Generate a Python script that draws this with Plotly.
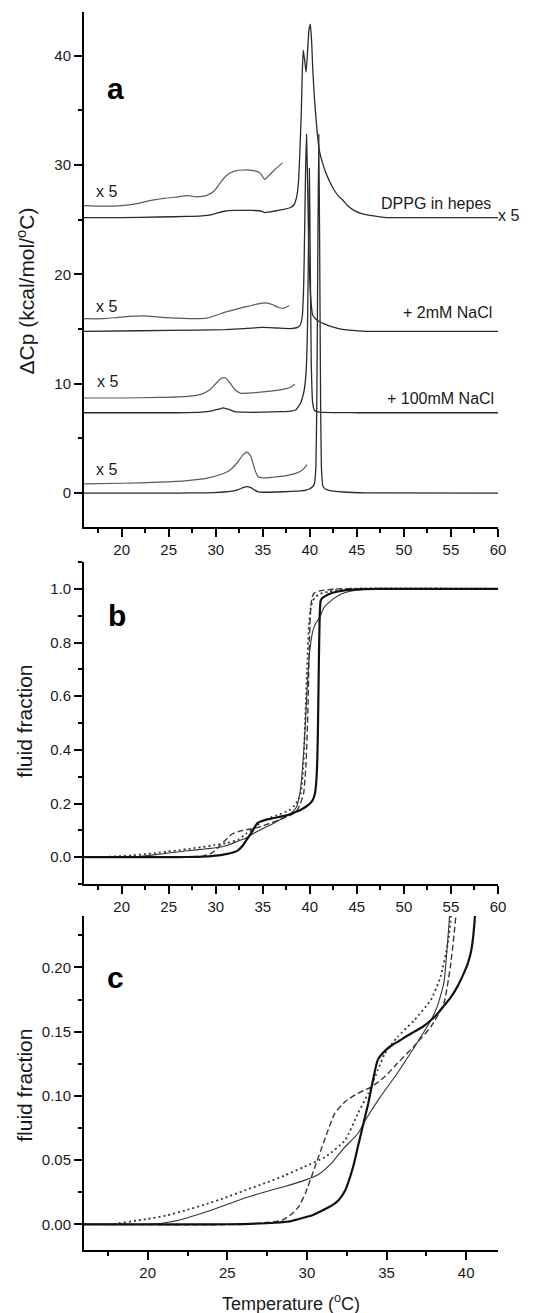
import plotly.graph_objects as go

# ---------------- Panel a : DSC thermograms (offset curves) ----------------
dppg_T = [16, 20, 24, 27, 28.5, 29.5, 30.3, 31, 32, 33, 34, 34.8, 35.2, 35.6, 36.3, 37.2, 37.9, 38.3,
          38.6, 38.8, 38.95, 39.1, 39.2, 39.3, 39.45, 39.6, 39.75, 39.9, 40.05, 40.2, 40.3, 40.5, 40.75,
          41.0, 41.35, 41.7, 42.4, 43.0, 43.5, 44.0, 44.6, 45.5, 46.4, 48.2, 52, 60]
dppg_cp = [25.2, 25.2, 25.25, 25.3, 25.35, 25.45, 25.65, 25.8, 25.85, 25.85, 25.85, 25.8, 25.65, 25.7,
           25.8, 25.95, 26.1, 26.35, 27.1, 28.5, 31.4, 35, 38.5, 40.5, 39.6, 38.5, 40.2, 42.3, 42.9, 41.2,
           39.0, 36.0, 33.3, 31.4, 30.2, 29.3, 28.0, 27.2, 26.8, 26.3, 25.9, 25.55, 25.4, 25.2, 25.2, 25.2]

dppg5_T = [16, 18, 20, 21.5, 23, 24.5, 26, 27, 28, 29, 29.8, 30.5, 31.2, 32, 33, 34, 34.7, 35.2, 35.6,
           36.3, 37.1]
dppg5_cp = [26.3, 26.25, 26.3, 26.45, 26.75, 26.95, 27.1, 27.2, 27.1, 27.2, 27.6, 28.4, 29.1, 29.45, 29.55,
            29.5, 29.3, 28.7, 29.0, 29.6, 30.2]

nacl2_T = [16, 22, 28, 31, 33, 35, 36.5, 38, 38.7, 39.0, 39.2, 39.35, 39.45, 39.55, 39.65, 39.75, 39.85,
           39.95, 40.1, 40.3, 40.6, 41.0, 41.6, 42.4, 43.3, 44.2, 46, 60]
nacl2_cp = [14.8, 14.85, 14.9, 14.95, 15.05, 15.15, 15.1, 15.05, 15.15, 15.4, 16.2, 19, 24, 29.5, 32.8,
            29, 24, 20.5, 17.8, 16.3, 15.95, 15.7, 15.45, 15.2, 15.0, 14.9, 14.8, 14.8]

nacl2x5_T = [16, 18, 20, 22.3, 24, 26, 28, 29, 30, 31, 32.5, 33.5, 34.5, 35.3, 36, 36.6, 37.1, 37.5, 37.8]
nacl2x5_cp = [15.95, 15.95, 16.1, 16.2, 16.1, 16.0, 15.95, 16.0, 16.25, 16.55, 16.9, 17.1, 17.3, 17.4,
              17.25, 17.0, 16.9, 17.0, 17.15]

nacl100_T = [16, 26, 28.5, 29.5, 30.2, 30.8, 31.4, 32.0, 33, 35, 37, 38.0, 38.5, 39.0, 39.2, 39.4, 39.6,
             39.75, 39.85, 39.95, 40.05, 40.15, 40.3, 40.5, 41, 45, 60]
nacl100_cp = [7.35, 7.35, 7.4, 7.5, 7.65, 7.8, 7.65, 7.45, 7.4, 7.4, 7.45, 7.5, 7.6, 8.2, 8.7, 9.4, 11,
              15, 22, 29.7, 21, 12, 8.3, 7.55, 7.4, 7.35, 7.35]

nacl100x5_T = [16, 20, 24, 27, 28.5, 29.3, 30, 30.6, 31, 31.5, 32, 32.6, 33.5, 35, 36.5, 37.5, 38, 38.4]
nacl100x5_cp = [8.7, 8.7, 8.75, 8.85, 9.05, 9.4, 10.0, 10.5, 10.55, 10.1, 9.5, 9.15, 9.15, 9.25, 9.4,
                9.55, 9.7, 9.95]

dppc_T = [16, 26, 29, 30.5, 31.5, 32.3, 32.9, 33.3, 33.7, 34.1, 34.5, 35, 36.5, 38, 39, 39.6, 40.0, 40.3,
          40.5, 40.65, 40.75, 40.85, 40.95, 41.05, 41.15, 41.25, 41.4, 41.7, 42.3, 43.5, 46, 60]
dppc_cp = [0, 0, 0.03, 0.08, 0.15, 0.3, 0.5, 0.6, 0.52, 0.3, 0.12, 0.08, 0.1, 0.15, 0.2, 0.27, 0.4, 0.58,
           0.9, 2.5, 9, 22, 32.8, 22, 8, 2, 0.6, 0.35, 0.2, 0.1, 0.02, 0]

dppcx5_T = [16, 20, 24, 27, 29, 30.5, 31.5, 32.3, 32.9, 33.3, 33.7, 34.1, 34.5, 35, 36, 37.5, 38.5, 39.2, 39.7]
dppcx5_cp = [0.85, 0.9, 1.0, 1.15, 1.35, 1.7, 2.1, 2.8, 3.5, 3.75, 3.4, 2.3, 1.5, 1.4, 1.45, 1.6, 1.8,
             2.1, 2.6]

# ---------------- Panels b and c : fluid fraction ----------------
ff_dppc_T = [16, 24, 26, 28, 29, 29.9, 30.3, 31.0, 31.55, 32.0, 32.4, 32.9, 33.2, 33.5, 33.85, 34.15,
             34.45, 34.9, 35.4, 35.7, 36.2, 36.75, 37.3, 37.8, 38.2, 38.6, 39.0, 39.45, 39.8, 40.1, 40.3,
             40.45, 40.6, 40.75, 40.85, 40.95, 41.05, 41.15, 41.3, 41.6, 42, 43, 44, 45, 47, 50, 60]
ff_dppc = [0, 0, 0.0002, 0.0012, 0.0025, 0.0055, 0.0068, 0.011, 0.0145, 0.019, 0.0263, 0.0446, 0.0603,
           0.076, 0.0941, 0.1124, 0.128, 0.135, 0.14, 0.142, 0.146, 0.150, 0.154, 0.159, 0.164, 0.170,
           0.176, 0.185, 0.194, 0.203, 0.212, 0.225, 0.25, 0.32, 0.45, 0.7, 0.9, 0.955, 0.965, 0.972,
           0.98, 0.99, 0.995, 0.998, 1.0, 1.0, 1.0]

ff_dppg_T = [16, 18, 20, 21, 22.3, 23.6, 24.8, 26.1, 27.3, 28.6, 29.8, 30.7, 31.5, 32.3, 33.2, 33.8, 34.6,
             35.7, 36.7, 37.75, 38.2, 38.6, 38.8, 39.0, 39.2, 39.4, 39.6, 39.8, 40.0, 40.3, 40.6, 41.0,
             41.5, 42.4, 43.3, 44.2, 45.5, 47, 60]
ff_dppg = [0, 0, 0, 0.001, 0.0044, 0.0094, 0.0146, 0.0204, 0.025, 0.0295, 0.034, 0.0386, 0.047, 0.059,
           0.0707, 0.0837, 0.099, 0.118, 0.137, 0.158, 0.170, 0.188, 0.214, 0.25, 0.32, 0.42, 0.55, 0.68,
           0.77, 0.84, 0.87, 0.89, 0.93, 0.96, 0.98, 0.99, 0.997, 1.0, 1.0]

ff_100_T = [16, 26, 28.4, 29.05, 29.5, 29.9, 30.5, 31.1, 31.75, 32.4, 33.2, 34.05, 34.9, 35.7, 36.75,
            37.8, 38.6, 39.0, 39.35, 39.6, 39.8, 39.95, 40.1, 40.25, 40.5, 41, 42, 43, 45, 60]
ff_100 = [0, 0, 0.003, 0.008, 0.014, 0.024, 0.0446, 0.0655, 0.0864, 0.0955, 0.102, 0.107, 0.115, 0.1255,
          0.139, 0.154, 0.172, 0.2, 0.24, 0.35, 0.55, 0.8, 0.93, 0.97, 0.985, 0.992, 0.997, 1.0, 1.0, 1.0]

ff_2_T = [16, 17.6, 19.9, 21.15, 22.35, 23.6, 24.85, 26.1, 27.35, 28.6, 29.8, 31.15, 32.4, 33.2, 33.85,
          34.45, 34.9, 35.7, 36.75, 37.8, 38.4, 38.85, 39.05, 39.3, 39.5, 39.7, 39.9, 40.1, 40.3, 40.6,
          41, 42, 44, 60]
ff_2 = [0, 0, 0.004, 0.0068, 0.0108, 0.0154, 0.0206, 0.0264, 0.032, 0.038, 0.0446, 0.0524, 0.0655, 0.0864,
        0.102, 0.12, 0.133, 0.146, 0.159, 0.175, 0.193, 0.219, 0.24, 0.33, 0.5, 0.7, 0.86, 0.93, 0.955,
        0.97, 0.98, 0.99, 1.0, 1.0]

FONT = "Liberation Sans, Arial, Helvetica, sans-serif"
MAIN = "#2b2b2b"
X5 = "#5a5a5a"

fig = go.Figure()


def add(x, y, xa, ya, color, width, dash="solid", smoothing=0.5):
    fig.add_trace(go.Scatter(x=x, y=y, xaxis=xa, yaxis=ya, mode="lines", showlegend=False,
                             hoverinfo="skip",
                             line=dict(color=color, width=width, dash=dash, shape="spline",
                                       smoothing=smoothing)))


# panel a
for T, c in [(dppg_T, dppg_cp), (nacl2_T, nacl2_cp), (nacl100_T, nacl100_cp), (dppc_T, dppc_cp)]:
    add(T, c, "x", "y", MAIN, 1.3, smoothing=0.4)
for T, c in [(dppg5_T, dppg5_cp), (nacl2x5_T, nacl2x5_cp), (nacl100x5_T, nacl100x5_cp),
             (dppcx5_T, dppcx5_cp)]:
    add(T, c, "x", "y", X5, 1.2, smoothing=0.7)

# panels b and c (same data, different zoom)
for xa, ya in [("x2", "y2"), ("x3", "y3")]:
    add(ff_2_T, ff_2, xa, ya, "#3a3a3a", 1.8, dash="2px,3px")
    add(ff_100_T, ff_100, xa, ya, "#3a3a3a", 1.4, dash="6px,3px")
    add(ff_dppg_T, ff_dppg, xa, ya, "#333333", 1.1)
    add(ff_dppc_T, ff_dppc, xa, ya, "#111111", 2.2)

W, H = 541, 1313
L, R, T_, B = 84, 43, 12, 63
PH = H - T_ - B


def dom(top_px, bot_px):
    return [(H - B - bot_px) / PH, (H - B - top_px) / PH]


common = dict(showline=True, linewidth=2, linecolor="black", ticks="outside", ticklen=8, tickwidth=1.5,
              tickcolor="black", showgrid=False, zeroline=False,
              tickfont=dict(family=FONT, size=15, color="#1a1a1a"))

fig.update_layout(
    width=W, height=H, margin=dict(l=L, r=R, t=T_, b=B),
    plot_bgcolor="white", paper_bgcolor="white",
    xaxis=dict(common, domain=[0, 1], anchor="y", range=[16, 60], dtick=5, tick0=0,
               minor=dict(ticks="outside", ticklen=4, tickwidth=1.5, tickcolor="black", dtick=2.5, tick0=0)),
    yaxis=dict(common, domain=dom(12, 527), anchor="x", range=[-3.1, 44], dtick=10, tick0=0,
               minor=dict(ticks="outside", ticklen=4, tickwidth=1.5, tickcolor="black", dtick=5, tick0=0)),
    xaxis2=dict(common, domain=[0, 1], anchor="y2", range=[16, 60], dtick=5, tick0=0,
                minor=dict(ticks="outside", ticklen=4, tickwidth=1.5, tickcolor="black", dtick=2.5, tick0=0)),
    yaxis2=dict(common, domain=dom(562, 884), anchor="x2", range=[-0.1, 1.1], dtick=0.2, tick0=0,
                tickformat=".1f",
                minor=dict(ticks="outside", ticklen=4, tickwidth=1.5, tickcolor="black", dtick=0.1, tick0=0)),
    xaxis3=dict(common, domain=[0, 1], anchor="y3", range=[16, 42], dtick=5, tick0=0,
                minor=dict(ticks="outside", ticklen=4, tickwidth=1.5, tickcolor="black", dtick=2.5, tick0=0)),
    yaxis3=dict(common, domain=dom(916, 1250), anchor="x3", range=[-0.02, 0.24], dtick=0.05, tick0=0,
                tickformat=".2f",
                minor=dict(ticks="outside", ticklen=4, tickwidth=1.5, tickcolor="black", dtick=0.025, tick0=0)),
)


def ypaper(py):
    return (H - B - py) / PH


ann = []
txt = dict(family=FONT, size=16, color="#1a1a1a")
# panel a curve labels
for x, y, t, anchor in [
    (18.35, 27.55, "x 5", "center"), (18.4, 17.1, "x 5", "center"),
    (18.5, 10.2, "x 5", "center"), (18.4, 2.17, "x 5", "center")]:
    ann.append(dict(x=x, y=y, xref="x", yref="y", text=t, showarrow=False, xanchor=anchor,
                    yanchor="middle", font=txt))
for x, y, t in [(59.5, 26.5, "DPPG in hepes"), (59.6, 16.5, "+ 2mM NaCl"),
                (59.8, 8.67, "+ 100mM NaCl"), (60.1, 1.65, "DPPC in hepes")]:
    ann.append(dict(x=x, y=y, xref="x", yref="y", text=t, showarrow=False, xanchor="right",
                    yanchor="middle", font=txt))
ann.append(dict(x=59.75, y=25.35, xref="x", yref="y", text="x 5", showarrow=False, xanchor="left",
                yanchor="middle", font=txt))
# panel letters
bold = dict(family=FONT, size=30, color="black")
ann.append(dict(x=19.36, y=37.0, xref="x", yref="y", text="<b>a</b>", showarrow=False, font=bold))
ann.append(dict(x=19.47, y=0.9, xref="x2", yref="y2", text="<b>b</b>", showarrow=False, font=bold))
ann.append(dict(x=18.0, y=0.192, xref="x3", yref="y3", text="<b>c</b>", showarrow=False, font=bold))
# axis titles
tfont = dict(family=FONT, size=21, color="#1a1a1a")
for py, t in [(291.5, "ΔCp (kcal/mol/<sup>o</sup>C)"), (721.7, "fluid fraction"),
              (1085.8, "fluid fraction")]:
    ann.append(dict(x=0, xref="paper", xshift=25 - L, y=ypaper(py), yref="paper", text=t,
                    textangle=-90, showarrow=False, xanchor="center", yanchor="middle", font=tfont))
ann.append(dict(x=0.5, xref="paper", y=ypaper(1302), yref="paper", text="Temperature (<sup>o</sup>C)",
                showarrow=False, xanchor="center", yanchor="middle",
                font=dict(family=FONT, size=18, color="#1a1a1a")))
fig.update_layout(annotations=ann)

fig.write_html("out.html", config={"displayModeBar": False},
               post_script="document.body.style.margin='0';document.body.style.overflow='hidden';")
